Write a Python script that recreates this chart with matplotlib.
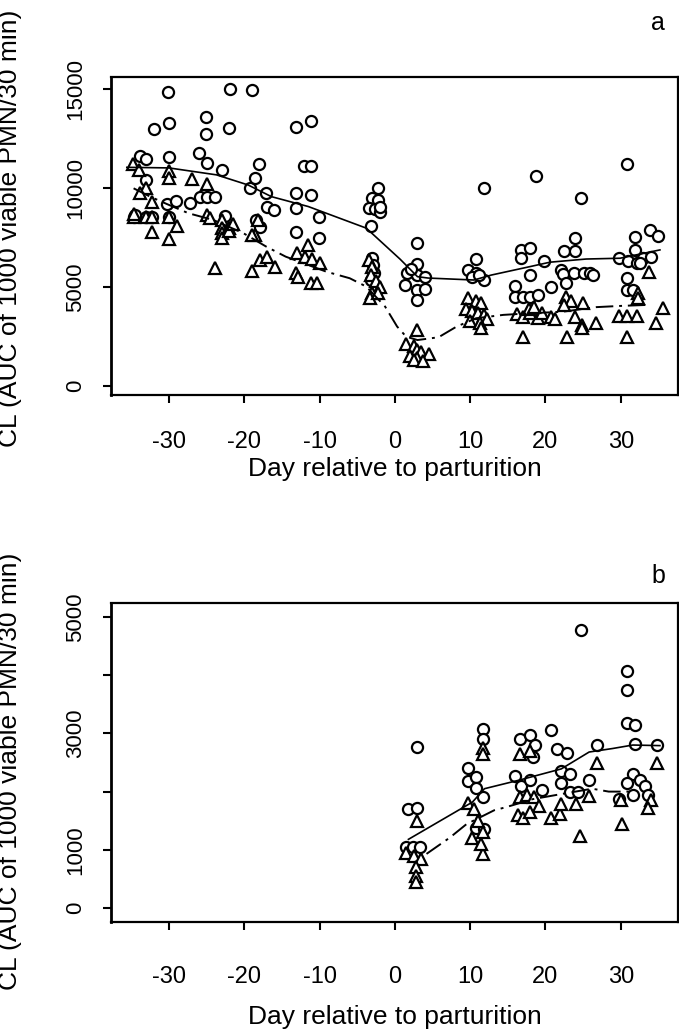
import matplotlib
matplotlib.use("Agg")
import matplotlib.pyplot as plt

plt.rcParams['font.family'] = ['Liberation Sans', 'DejaVu Sans']

# ---------------- Panel a data ----------------
a_circ_day = [-34.7, -34.5, -33.9, -33.0, -33.0, -33.0, -32.2, -32.0,
              -30.1, -30.0, -30.0, -30.3, -29.1, -30.0,
              -27.2, -26.0, -25.9,
              -25.1, -25.1, -24.9, -24.9, -23.9,
              -23.0, -22.0, -21.9, -22.5,
              -19.0, -19.3, -18.6, -18.1, -18.4, -17.9, -17.1, -17.0, -16.1,
              -13.1, -11.1, -12.1, -11.1, -13.1, -11.2, -13.1, -10.1, -13.1, -10.1,
              -2.2, -3.0, -2.2, -3.4, -2.6, -2.0, -3.2, -3.1, -2.9, -2.8, -3.2, -2.0,
              2.9, 2.9, 1.6, 2.9, 4.0, 1.4, 2.9, 4.0, 2.9, 2.2,
              10.8, 9.7, 10.8, 11.8, 11.8, 10.3, 11.2,
              18.7, 16.8, 17.9, 16.8, 19.8, 17.9, 20.8, 15.9, 15.9, 17.0, 17.9, 19.0,
              24.7, 23.9, 22.5, 23.9, 22.0, 22.3, 23.8, 25.1, 25.9, 26.3, 22.7,
              30.8, 31.9, 33.9, 35.0, 31.9, 29.7, 31.0, 32.1, 33.0, 34.0, 32.5, 30.8, 30.8, 31.6]
a_circ_val = [8550, 8650, 11620, 11450, 10400, 8550, 8550, 12960,
              14830, 13300, 11550, 9190, 9340, 8550,
              9260, 11780, 9550,
              13600, 12730, 11280, 9550, 9550,
              10910, 13010, 14985, 8600,
              14950, 10020, 10490, 11210, 8380, 8050, 9730, 9060, 8890,
              13100, 13400, 11110, 11110, 9730, 9650, 8970, 8520, 7790, 7460,
              9980, 9500, 9400, 9000, 8950, 8800, 8100, 6450, 6100, 5700, 5350, 9060,
              7240, 6160, 5700, 5600, 5500, 5100, 4850, 4900, 4340, 5900,
              6400, 5860, 5700, 5350, 9980, 5500, 5600,
              10600, 6870, 6950, 6460, 6310, 5600, 5020, 5030, 4500, 4500, 4500, 4600,
              9510, 7460, 6830, 6830, 5860, 5650, 5700, 5720, 5700, 5600, 5200,
              11200, 7540, 7880, 7580, 6870, 6460, 6300, 6200, 6460, 6500, 6200, 5450, 4850, 4850]

a_tri_day = [-34.8, -34.0, -30.0, -30.0, -27.0, -25.0, -33.0, -33.9, -32.2,
             -34.7, -34.7, -33.0, -32.2, -30.0, -28.9, -32.2, -30.0,
             -25.0, -24.5, -23.0, -23.0, -23.0, -23.0, -22.0, -22.0, -21.5, -23.9,
             -18.6, -19.0, -18.2, -19.0, -17.9, -17.0, -15.9,
             -13.0, -12.0, -11.5, -11.0, -10.0, -13.1, -12.8, -11.2, -10.3,
             -3.5, -3.0, -3.2, -2.5, -2.0, -3.0, -3.3, -2.2,
             3.0, 1.5, 2.5, 3.0, 3.5, 4.5, 2.0, 3.0, 2.5, 3.8,
             9.7, 10.8, 11.5, 9.5, 10.3, 11.0, 11.8, 12.2, 10.0, 11.3, 11.5,
             17.0, 16.2, 17.0, 18.0, 19.0, 19.5, 20.8, 21.3, 17.8, 18.5,
             22.8, 22.7, 23.4, 22.5, 25.0, 23.9, 24.8, 24.8, 26.7,
             30.8, 29.7, 30.8, 32.1, 33.8, 35.6, 34.7, 32.3, 32.3]
a_tri_val = [11210, 10910, 10870, 10490, 10440, 10200, 10000, 9750, 9310,
             8550, 8700, 8550, 8550, 8550, 8100, 7760, 7420,
             8640, 8500, 8380, 8000, 7700, 7470, 8000, 7800, 8200, 5940,
             7620, 7620, 8400, 5820, 6360, 6530, 6030,
             6700, 6500, 7120, 6400, 6200, 5700, 5500, 5190, 5190,
             6360, 6000, 5600, 5300, 5000, 4700, 4440, 4700,
             2830, 2100, 2000, 1800, 1700, 1600, 1500, 1400, 1300, 1250,
             4440, 4300, 4190, 3900, 3800, 3700, 3600, 3400, 3300, 3200, 2930,
             2490, 3650, 3500, 3700, 3450, 3700, 3500, 3400, 3900, 4000,
             2490, 4490, 4300, 4100, 4200, 3500, 3080, 2930, 3180,
             2490, 3540, 3540, 3540, 5770, 3940, 3200, 4700, 4440]

a_line_circ_day = [-35.6, -30.0, -23.7, -19.5, -16.4, -11.5, -3.8, 0.7, 3.0, 4.4, 10.5, 12.8, 17.5, 20.6, 25.4, 29.9, 35.2]
a_line_circ_val = [11040, 11010, 10660, 10150, 9560, 9060, 7970, 6400, 5520, 5450, 5350, 5600, 5990, 6250, 6410, 6450, 6870]

a_line_tri_day = [-34.7, -32.5, -30.3, -27.4, -24.1, -20.1, -17.1, -14.5, -9.1, -6.0, -3.8, -1.3, 0.3, 1.5, 3.0, 5.8, 8.2, 10.8, 14.4, 17.9, 22.3, 26.7, 29.8, 33.3]
a_line_tri_val = [9980, 9560, 9190, 8720, 8380, 7710, 7040, 6530, 5770, 5440, 5020, 4010, 3000, 2490, 2320, 2460, 3000, 3420, 3590, 3670, 3750, 3980, 4040, 4090]

# ---------------- Panel b data ----------------
b_circ_day = [24.7, 30.8, 30.8, 30.8, 31.9, 3.0, 20.8, 26.8, 31.9, 34.8,
              11.7, 11.7, 16.6, 17.9, 18.6, 18.4, 21.5, 22.8,
              1.8, 3.0, 1.5, 2.4, 3.4,
              9.7, 9.7, 10.8, 10.8, 11.7, 10.8, 11.9,
              15.9, 16.8, 17.9, 19.6, 22.0, 23.3, 22.0, 23.3, 25.8, 24.3,
              31.6, 32.5, 30.8, 33.2, 33.6, 29.8, 31.6]
b_circ_val = [4780, 4080, 3740, 3180, 3140, 2760, 3050, 2800, 2820, 2800,
              3080, 2900, 2900, 2970, 2800, 2600, 2740, 2670,
              1700, 1720, 1040, 1040, 1040,
              2400, 2190, 2250, 2070, 1900, 1380, 1350,
              2270, 2100, 2200, 2020, 2360, 2300, 2140, 2000, 2200, 2000,
              2300, 2200, 2150, 2100, 1950, 1880, 1950]

b_tri_day = [3.0, 11.7, 24.6, 30.2, 26.8, 34.8, 16.6, 17.9,
             16.6, 17.5, 18.5, 19.2, 16.3, 17.0, 18.0, 20.8, 21.9, 22.0, 24.0, 25.8,
             30.0, 34.0, 33.6, 1.5, 2.5, 3.5, 2.8, 2.8, 2.8,
             9.7, 10.5, 11.0, 11.7, 10.2, 11.5, 11.7, 11.7]
b_tri_val = [1500, 930, 1240, 1450, 2490, 2490, 2650, 2700,
             1900, 1950, 1900, 1750, 1600, 1550, 1650, 1550, 1620, 1790, 1790, 1930,
             1850, 1850, 1720, 950, 900, 850, 700, 550, 450,
             1800, 1700, 1500, 1300, 1200, 1100, 2750, 2650]

b_line_circ_day = [1.8, 10.3, 11.9, 16.6, 22.1, 25.8, 28.9, 31.6, 35.2]
b_line_circ_val = [1180, 1820, 2050, 2200, 2390, 2680, 2740, 2800, 2790]

b_line_tri_day = [4.2, 7.3, 9.5, 13.2, 14.7, 18.3, 22.2, 26.2, 28.4, 31.6]
b_line_tri_val = [930, 1210, 1440, 1680, 1730, 1870, 1960, 2050, 2000, 2000]

a_yticks = [0, 5000, 10000, 15000]
b_yticks = [0, 1000, 2000, 3000, 4000, 5000]
b_yticklabels = ['0', '1000', '', '3000', '', '5000']
xticks = [-30, -20, -10, 0, 10, 20, 30]
ylabel = 'CL (AUC of 1000 viable PMN/30 min)'
xlabel = 'Day relative to parturition'

W, H = 679, 1029
fig = plt.figure(figsize=(W / 100, H / 100), dpi=100)

def frac(l, t, r, b):
    return [l / W, 1 - b / H, (r - l) / W, (b - t) / H]

ax_a = fig.add_axes(frac(111, 77, 678, 395))
ax_b = fig.add_axes(frac(111, 603, 678, 922))

ms_c = 8
ms_t = 9
mew = 1.6
dashdot = (0, (9, 3, 1.5, 3))

def style(ax, xpad, ypad):
    for s in ax.spines.values():
        s.set_linewidth(1.6)
    ax.spines['left'].set_linewidth(2.0)
    ax.set_xticks(xticks)
    ax.set_xticklabels([str(v) for v in xticks], fontsize=17)
    ax.tick_params(axis='x', length=6, width=1.5, pad=xpad)
    ax.tick_params(axis='y', length=6, width=1.5, pad=ypad)
    for lab in ax.get_yticklabels():
        lab.set_rotation(90)
        lab.set_va('center')
        lab.set_fontfamily(['Liberation Sans Narrow', 'Liberation Sans'])
        lab.set_fontsize(16)

# Panel a
ax = ax_a
ax.plot(a_circ_day, a_circ_val, 'o', mfc='white', mec='black', ms=ms_c, mew=mew, zorder=3)
ax.plot(a_tri_day, a_tri_val, '^', mfc='white', mec='black', ms=ms_t, mew=mew, zorder=3)
ax.plot(a_line_circ_day, a_line_circ_val, '-', color='black', lw=1.2, zorder=4)
ax.plot(a_line_tri_day, a_line_tri_val, color='black', lw=1.4, linestyle=dashdot, zorder=4)
ax.set_xlim(-37.7, 37.6)
ax.set_ylim(-455, 15600)
ax.set_yticks(a_yticks)
ax.set_yticklabels([str(v) for v in a_yticks])
style(ax, 20, 12)
ax.set_xlabel(xlabel, fontsize=19)
ax.set_ylabel(ylabel, fontsize=19)
ax.xaxis.set_label_coords(0.5, -0.195)
ax.yaxis.set_label_coords(-0.157, 0.525)
ax.text(0.965, 1.17, 'a', transform=ax.transAxes, fontsize=18, ha='center', va='center')

# Panel b
ax = ax_b
ax.plot(b_circ_day, b_circ_val, 'o', mfc='white', mec='black', ms=ms_c, mew=mew, zorder=3)
ax.plot(b_tri_day, b_tri_val, '^', mfc='white', mec='black', ms=ms_t, mew=mew, zorder=3)
ax.plot(b_line_circ_day, b_line_circ_val, '-', color='black', lw=1.2, zorder=4)
ax.plot(b_line_tri_day, b_line_tri_val, color='black', lw=1.4, linestyle=dashdot, zorder=4)
ax.set_xlim(-37.7, 37.6)
ax.set_ylim(-240, 5240)
ax.set_yticks(b_yticks)
ax.set_yticklabels(b_yticklabels)
style(ax, 25.5, 12)
ax.set_xlabel(xlabel, fontsize=19)
ax.set_ylabel(ylabel, fontsize=19)
ax.xaxis.set_label_coords(0.5, -0.26)
ax.yaxis.set_label_coords(-0.157, 0.473)
ax.text(0.965, 1.085, 'b', transform=ax.transAxes, fontsize=18, ha='center', va='center')

fig.savefig('out.png', dpi=100, facecolor='white')
